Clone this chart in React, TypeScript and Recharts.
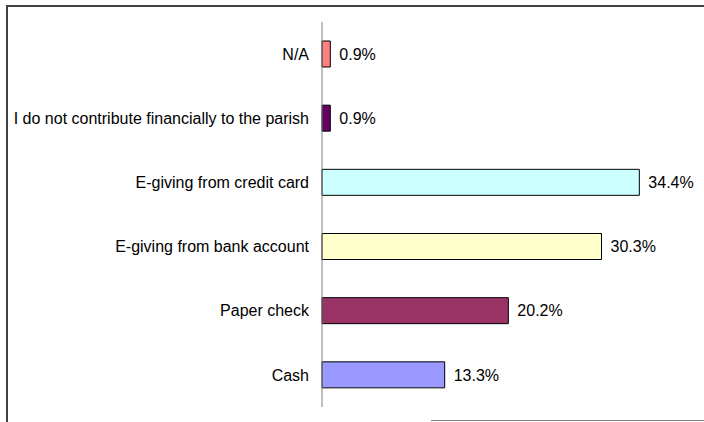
import { BarChart, Bar, XAxis, YAxis, Cell, LabelList } from "recharts";

const categories = [
  "N/A",
  "I do not contribute financially to the parish",
  "E-giving from credit card",
  "E-giving from bank account",
  "Paper check",
  "Cash",
];
const values = [0.9, 0.9, 34.4, 30.3, 20.2, 13.3];
const colors = ["#FF8080", "#660066", "#CCFFFF", "#FFFFCC", "#993366", "#9999FF"];

const data = categories.map((name, i) => ({ name, value: values[i], fill: colors[i] }));

export default function App() {
  return (
    <div
      style={{
        position: "fixed",
        top: 0,
        left: 0,
        width: 704,
        height: 422,
        background: "#fff",
        fontFamily: "'Liberation Sans', Arial, sans-serif",
      }}
    >
      <div
        style={{
          position: "absolute",
          left: 6,
          top: 5,
          width: 698,
          height: 417,
          borderTop: "2px solid #404040",
          borderLeft: "2px solid #404040",
          boxSizing: "border-box",
        }}
      />
      <div
        style={{
          position: "absolute",
          left: 431,
          top: 420,
          width: 273,
          height: 0,
          borderTop: "1px solid #808080",
        }}
      />
      <BarChart
        width={704}
        height={422}
        data={data}
        layout="vertical"
        margin={{ top: 22, right: 13, bottom: 15, left: 0 }}
        barSize={26}
        style={{ position: "absolute", top: 0, left: 0 }}
      >
        <XAxis type="number" domain={[0, 40]} hide />
        <YAxis
          type="category"
          dataKey="name"
          width={322}
          tickLine={false}
          axisLine={{ stroke: "#808080" }}
          tick={{ fill: "#000", fontSize: 16 }}
          tickMargin={7}
          interval={0}
        />
        <Bar dataKey="value" stroke="#000" strokeWidth={1} isAnimationActive={false}>
          {data.map((d, i) => (
            <Cell key={i} fill={d.fill} />
          ))}
          <LabelList
            dataKey="value"
            position="right"
            offset={9}
            fill="#000"
            fontSize={16}
            formatter={(v: number) => `${v.toFixed(1)}%`}
          />
        </Bar>
      </BarChart>
    </div>
  );
}
